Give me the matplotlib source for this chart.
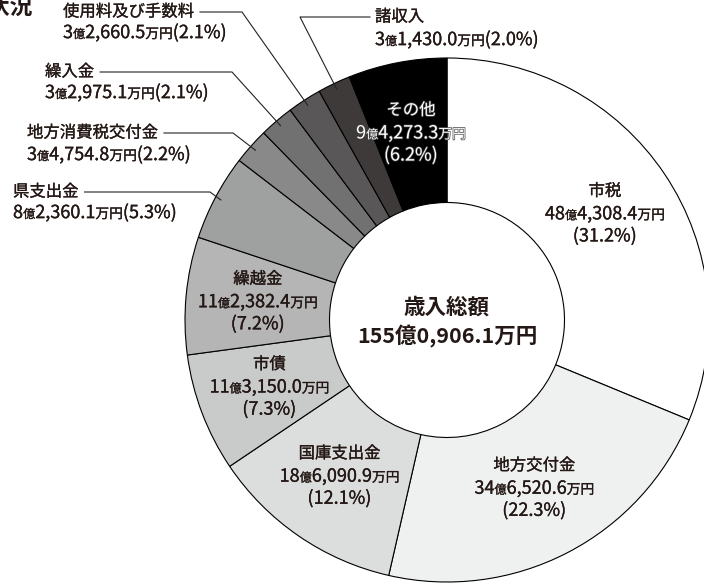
import numpy as np
import matplotlib
matplotlib.use('Agg')
import matplotlib.pyplot as plt
import matplotlib.patheffects as pe
from matplotlib.offsetbox import TextArea, HPacker, AnnotationBbox

plt.rcParams['font.family'] = ['Noto Sans CJK JP', 'DejaVu Sans']

# 歳入の内訳（万円）、時計回りに12時から
names = ['市税', '地方交付金', '国庫支出金', '市債', '繰越金', '県支出金',
         '地方消費税交付金', '繰入金', '使用料及び手数料', '諸収入', 'その他']
amounts = [484308.4, 346520.6, 186090.9, 113150.0, 112382.4, 82360.1,
           34754.8, 32975.1, 32660.5, 31430.0, 94273.3]
shares = [31.2, 22.3, 12.1, 7.3, 7.2, 5.3, 2.2, 2.1, 2.1, 2.0, 6.2]
colors = ['#ffffff', '#eff0f0', '#dcdddd', '#c9caca', '#b5b5b6', '#9fa0a0',
          '#898989', '#727171', '#595757', '#3e3a39', '#000000']
total_label = '歳入総額'

W, H = 704, 585
cx, cy = 447, H - 320
R_out, R_in = 262, 117.5
TXT = '#231815'
FS = 11.8     # 日本語の大きさ
NS = 13.0     # 数字の大きさ

# 少し太く見せる
thick = [pe.withStroke(linewidth=0.2, foreground=TXT)]
white_fx = [pe.withStroke(linewidth=1.0, foreground='#444444')]


def split_amount(v):
    t = int(round(v * 10))
    oku = t // 100000
    rem = t % 100000
    man = rem // 10
    dec = rem % 10
    return str(oku), f'{man // 1000},{man % 1000:03d}.{dec}'


def value_box(v, pct=None, color=TXT, effects=thick):
    oku, man = split_amount(v)
    big = dict(size=NS, color=color, path_effects=effects)
    oku_p = dict(size=FS * 0.74, color=color, path_effects=effects)
    man_p = dict(size=FS * 0.84, color=color, path_effects=effects)
    parts = [TextArea(oku, textprops=big), TextArea('億', textprops=oku_p),
             TextArea(man, textprops=big), TextArea('万円', textprops=man_p)]
    if pct is not None:
        parts.append(TextArea(f'({pct:.1f}%)', textprops=big))
    return HPacker(children=parts, align='baseline', pad=0, sep=0)


fig = plt.figure(figsize=(W / 100, H / 100), dpi=100)
ax = fig.add_axes([0, 0, 1, 1])

wedges, _ = ax.pie(amounts, colors=colors, startangle=90, counterclock=False,
                   radius=R_out, center=(cx, cy),
                   wedgeprops=dict(width=R_out - R_in, edgecolor='black', linewidth=0.8))
ax.set_xlim(0, W)
ax.set_ylim(0, H)
ax.set_aspect('equal')
ax.axis('off')


def mid_point(w, r):
    a = np.deg2rad((w.theta1 + w.theta2) / 2)
    return cx + r * np.cos(a), cy + r * np.sin(a)


# 内側のラベル
inner = [0, 1, 2, 3, 4, 10]
for i in inner:
    x, y = mid_point(wedges[i], 190)
    col = 'white' if i == 10 else TXT
    eff = white_fx if i == 10 else thick
    ax.text(x, y + 23, names[i], ha='center', va='center', size=FS, color=col,
            path_effects=eff)
    ab = AnnotationBbox(value_box(amounts[i], color=col, effects=eff), (x, y),
                        box_alignment=(0.5, 0.5), frameon=False, pad=0)
    ax.add_artist(ab)
    ax.text(x, y - 22, f'({shares[i]:.1f}%)', ha='center', va='center', size=NS,
            color=col, path_effects=eff)

# 外側のラベル（引出線付き）: 左端x, 1行目y, 2行目y, 折れ点x（上からのピクセル）
outer = {5: (13, 192, 213, 210), 6: (27, 133, 155, 233), 7: (45, 72, 93, 232),
         8: (63, 12, 33, 242), 9: (375, 17, 40, 300)}
fig.canvas.draw()
renderer = fig.canvas.get_renderer()
for i, (lx, y1, y2, ex) in outer.items():
    t = ax.text(lx, H - y1, names[i], ha='left', va='center', size=FS,
                color=TXT, path_effects=thick)
    ab = AnnotationBbox(value_box(amounts[i], shares[i]), (lx, H - y2),
                        box_alignment=(0, 0.5), frameon=False, pad=0)
    ax.add_artist(ab)
    bb = t.get_window_extent(renderer).transformed(ax.transData.inverted())
    px, py = mid_point(wedges[i], 256)
    if lx < ex:
        hx = bb.x1 + 6
    else:
        hx = lx - 5
    ax.plot([hx, ex, px], [H - y1, H - y1, py], color='#222222', lw=0.8)

# 中央
ax.text(cx, cy + 13, total_label, ha='center', va='center', size=15.5,
        weight='bold', color=TXT)
oku, man = split_amount(sum(amounts))
ax.text(cx, cy - 16, f'{oku}億{man}万円', ha='center', va='center', size=15.5,
        weight='bold', color=TXT)

# 見出し（左上で切れている）
ax.text(33, H - 7, '歳入の状況', ha='right', va='center', size=16.5,
        weight='bold', color=TXT)

fig.savefig('out.png', dpi=100)
